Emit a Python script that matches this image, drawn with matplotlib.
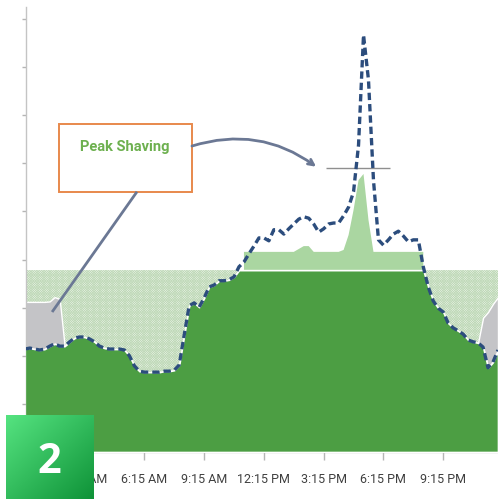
import numpy as np
import matplotlib
matplotlib.use("Agg")
from matplotlib import pyplot as plt
from matplotlib.patches import Rectangle
from matplotlib.colors import LinearSegmentedColormap

# 15 minute load profile, 0:15 .. 24:00 (kW-ish units, ticks every 100)
hours = np.arange(0.25, 24.01, 0.25)
load = [214, 216, 214, 212, 214, 220, 225, 220, 220, 229, 237, 239,
        239, 235, 229, 220, 216, 214, 214, 214, 212, 200, 179, 168,
        166, 166, 166, 166, 168, 168, 170, 181, 243, 304, 310, 301,
        320, 343, 347, 356, 356, 358, 364, 385, 395, 412, 428, 445,
        445, 439, 462, 462, 453, 464, 474, 484, 489, 486, 474, 457,
        464, 474, 476, 476, 491, 509, 541, 638, 867, 773, 565, 441,
        430, 441, 453, 459, 449, 437, 441, 441, 385, 343, 314, 299,
        291, 268, 258, 252, 245, 233, 229, 227, 218, 175, 187, 212]
cap = 378

# light green band above the cap (midday)
light_hours = np.arange(11.25, 20.26, 0.25)
light_top = [416, 416, 416, 416, 416, 416, 416, 416, 416, 416, 416, 422,
             428, 428, 416, 416, 416, 416, 416, 416, 420, 451, 503, 565,
             578, 482, 416, 416, 416, 416, 416, 416, 416, 416, 416, 416, 416]

# grey areas above the load at night
grey_hours_am = [0.25, 0.5, 0.75, 1.0, 1.25, 1.5, 1.75, 2.0, 2.25]
grey_top_am = [312, 312, 312, 312, 312, 313, 322, 318, 220]
grey_hours_pm = [23.0, 23.25, 23.5, 23.75, 24.0]
grey_top_pm = [227, 279, 291, 308, 322]

tick_hours = [3.25, 6.25, 9.25, 12.25, 15.25, 18.25, 21.25]
tick_labels = ["3:15 AM", "6:15 AM", "9:15 AM", "12:15 PM", "3:15 PM", "6:15 PM", "9:15 PM"]

load = np.array(load, dtype=float)
lookup = dict(zip(np.round(hours, 2), load))

plt.rcParams["hatch.linewidth"] = 0.5
narrow = ["Roboto", "DejaVu Sans"]

fig = plt.figure(figsize=(4.98, 4.99), dpi=100)
ax = fig.add_axes([26 / 498, 47 / 499, 472 / 498, 445 / 499])

low = np.minimum(load, cap)
ax.fill_between(hours, low, cap, facecolor="#e9f2e6", edgecolor="#bfd9b8",
                hatch="x" * 14, linewidth=0, zorder=1)
for gh, gt in [(grey_hours_am, grey_top_am), (grey_hours_pm, grey_top_pm)]:
    base = [lookup[round(h, 2)] for h in gh]
    ax.fill_between(gh, base, gt, facecolor="#c4c4c7", edgecolor="white",
                    linewidth=1, zorder=2)
ax.fill_between(light_hours, cap, light_top, facecolor="#aad6a1",
                linewidth=0, zorder=3)
ax.fill_between(hours, 0, low, facecolor="#4c9e43", edgecolor="white",
                linewidth=1.2, zorder=4)

ax.hlines(590, 15.37, 18.58, color="#8f8f8f", lw=1, zorder=5)
ax.plot(hours, load, color="#2c4d7d", lw=2.4, ls=(0, (2.2, 1.2)), zorder=6)

ax.set_xlim(0.31, 24.0)
ax.set_ylim(0, 925)
ax.set_yticks(range(0, 1000, 100))
ax.set_yticklabels([])
ax.set_xticks(tick_hours)
ax.set_xticklabels(tick_labels, family=narrow, fontsize=9, color="#404040")
ax.tick_params(axis="x", length=6, width=1, color="#b5b5b5", pad=9)
ax.tick_params(axis="y", length=3, width=1, color="#b5b5b5")
for s in ["top", "right"]:
    ax.spines[s].set_visible(False)
for s in ["left", "bottom"]:
    ax.spines[s].set_color("#c4c4c4")
    ax.spines[s].set_linewidth(1)

# annotation box
ax.add_patch(Rectangle((1.97, 541), 8.64 - 1.97, 682 - 541, facecolor="white",
                       edgecolor="#e8894c", lw=1.4, zorder=7, clip_on=False))
ax.text(5.28, 634, "Peak Shaving", family=narrow, fontsize=10.5,
        fontweight="bold", color="#6db04f", ha="center", va="center", zorder=8)
ax.annotate("", xy=(14.87, 593), xytext=(8.64, 636),
            arrowprops=dict(arrowstyle="->", connectionstyle="arc3,rad=-0.25",
                            color="#6b7894", lw=2, shrinkA=0, shrinkB=0),
            zorder=8)
ax.plot([5.88, 1.62], [541, 291], color="#6b7894", lw=2, zorder=8,
        solid_capstyle="butt")

# green badge
bx = fig.add_axes([6 / 498, 0, 87 / 498, 84 / 499])
ii, jj = np.mgrid[0:1:60j, 0:1:60j]
grad = 1 - (ii + jj) / 2
cmap = LinearSegmentedColormap.from_list("g", ["#0f9338", "#55e380"])
bx.imshow(grad, cmap=cmap, extent=(0, 1, 0, 1), aspect="auto")
bx.axis("off")
bx.text(0.5, 0.43, "2", color="white", fontsize=30, fontweight="bold",
        family=["Open Sans", "DejaVu Sans"], ha="center", va="center")

fig.savefig("out.png", dpi=100)
